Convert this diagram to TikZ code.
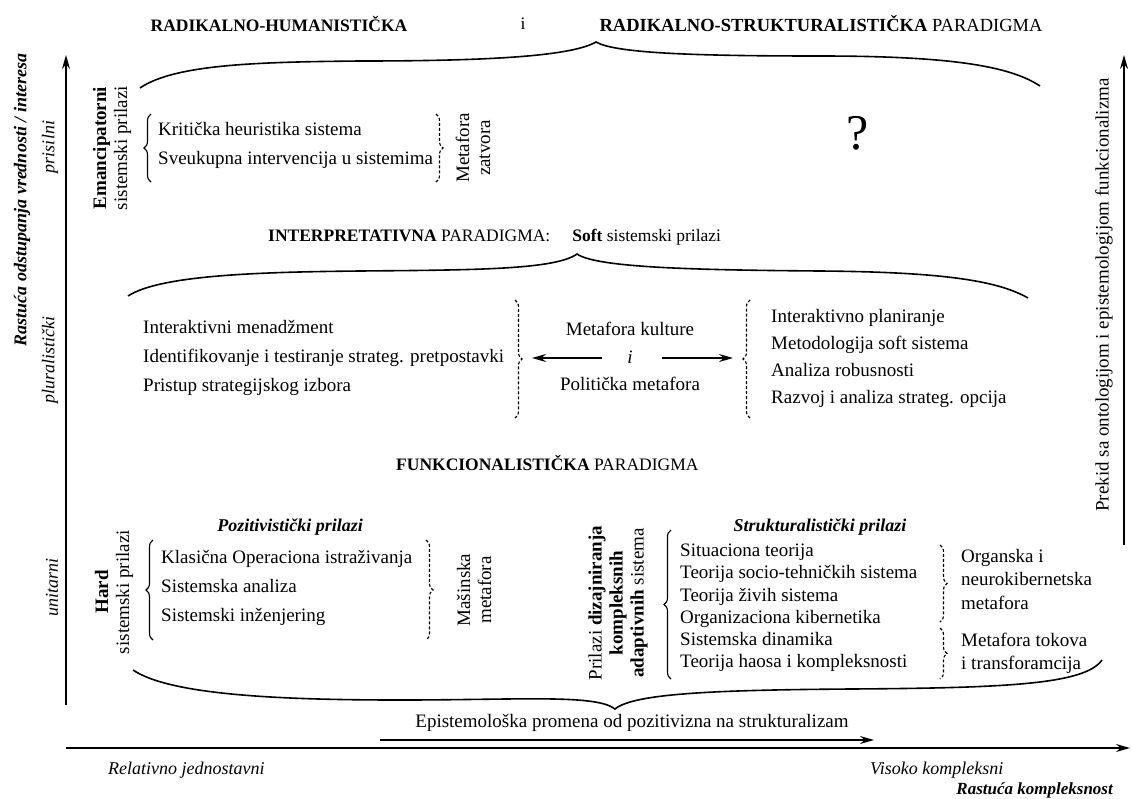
\documentclass[tikz,border=0pt]{standalone}
\usepackage{fontspec}
\setmainfont{Liberation Serif}
\usetikzlibrary{arrows.meta,decorations.pathreplacing}

\tikzset{
  txt/.style={font=\fontsize{19}{21}\selectfont, inner sep=0pt},
  item/.style={txt, anchor=west, text height=13pt, text depth=4pt},
  naslov/.style={font=\fontsize{17.5}{20}\selectfont, inner sep=0pt},
  osa/.style={font=\fontsize{18}{20}\selectfont\itshape, inner sep=0pt},
  zagrada/.style={decorate, decoration={brace, amplitude=7pt}, line width=1.1pt},
  crtice/.style={zagrada, dash pattern=on 3pt off 2pt},
  velika/.style={line width=1.6pt},
  strelica/.style={line width=1.3pt, -{Stealth[length=14pt,width=8pt]}},
}

\begin{document}
\begin{tikzpicture}[x=1pt, y=-1pt]
\useasboundingbox (0,0) rectangle (1131,798);
\fill[white] (0,0) rectangle (1131,798);

% ose
\coordinate (y0) at (66,705);
\coordinate (y1) at (66,55);
\coordinate (x0) at (66,748);
\coordinate (x1) at (1130,748);
\coordinate (d0) at (1124,545);
\coordinate (d1) at (1124,55);
\draw[strelica] (y0) -- (y1);
\draw[strelica] (x0) -- (x1);
\draw[strelica] (d0) -- (d1);

\node[osa, font=\fontsize{18}{20}\selectfont\bfseries\itshape, rotate=90] (rast) at (22,200) {Rastuća odstupanja vrednosti / interesa};
\node[osa, rotate=90] (pris) at (50,147) {prisilni};
\node[osa, rotate=90] (plur) at (50,360) {pluralistički};
\node[osa, rotate=90] (unit) at (52,587) {unitarni};
\node[txt, rotate=90] (prekid) at (1104,295) {Prekid sa ontologijom i epistemologijom funkcionalizma};

\node[osa, anchor=west] (relj) at (108,770) {Relativno jednostavni};
\node[osa, anchor=west] (visk) at (870,770) {Visoko kompleksni};
\node[osa, font=\fontsize{17}{20}\selectfont\bfseries\itshape, anchor=east] (rastk) at (1113,790) {Rastuća kompleksnost};

% radikalne paradigme
\node[naslov] (rh) at (279,24) {\textbf{RADIKALNO-HUMANISTIČKA}};
\node[naslov] (ii) at (523,24) {i};
\node[naslov, font=\fontsize{18.5}{20}\selectfont] (rs) at (821,24) {\textbf{RADIKALNO-STRUKTURALISTIČKA} PARADIGMA};
\draw[velika] (140,88) .. controls (175,64) and (260,62) .. (360,61)
  .. controls (480,61) and (570,57) .. (596,42)
  .. controls (615,53) and (690,56) .. (820,56)
  .. controls (950,56) and (1010,66) .. (1040,86);

\node[txt, rotate=90, align=center] (emanc) at (112,148) {\textbf{Emancipatorni}\\sistemski prilazi};
\draw[zagrada] (151,182) -- (151,114);
\foreach \t [count=\i] in {Kritička heuristika sistema, Sveukupna intervencija u sistemima}
  \node[item] (em\i) at (158,{102+29*\i}) {\t};
\draw[crtice] (436,114) -- (436,182);
\node[txt, rotate=90, align=center] (zatv) at (473,148) {Metafora\\zatvora};
\node[txt, font=\fontsize{50}{56}\selectfont] (upit) at (858,133) {?};

% interpretativna paradigma
\node[naslov, anchor=west] (interp) at (268,237) {\textbf{INTERPRETATIVNA} PARADIGMA:\hspace{22pt}\textbf{Soft} sistemski prilazi};
\draw[velika] (128,296) .. controls (160,275) and (260,272) .. (360,271)
  .. controls (470,270) and (555,270) .. (577,254)
  .. controls (597,268) and (700,270) .. (820,271)
  .. controls (950,272) and (1000,282) .. (1028,298);

\foreach \t [count=\i] in {Interaktivni menadžment, Identifikovanje i testiranje strateg. pretpostavki, Pristup strategijskog izbora}
  \node[item] (int\i) at (143,{300+29*\i}) {\t};
\draw[crtice] (515,300) -- (515,418);
\node[txt] (kult) at (630,329) {Metafora kulture};
\node[txt, font=\fontsize{19}{21}\selectfont\itshape] (veznik) at (630,357) {i};
\node[txt] (polit) at (630,384) {Politička metafora};
\coordinate (lk) at (532,358);
\coordinate (ls) at (602,358);
\coordinate (ds) at (662,358);
\coordinate (dk) at (733,358);
\draw[strelica] (ls) -- (lk);
\draw[strelica] (ds) -- (dk);
\draw[crtice] (750,418) -- (750,300);
\foreach \t [count=\i] in {Interaktivno planiranje, Metodologija soft sistema, Analiza robusnosti, Razvoj i analiza strateg. opcija}
  \node[item] (plan\i) at (771,{291+27*\i}) {\t};

% funkcionalisticka paradigma
\node[naslov, anchor=west] (funk) at (396,463) {\textbf{FUNKCIONALISTIČKA} PARADIGMA};

\node[txt, font=\fontsize{18}{20}\selectfont\bfseries\itshape] (pozit) at (290,527) {Pozitivistički prilazi};
\node[txt, rotate=90, align=center] (hard) at (114,592) {\textbf{Hard}\\sistemski prilazi};
\draw[zagrada] (153,640) -- (153,540);
\foreach \t [count=\i] in {Klasična Operaciona istraživanja, Sistemska analiza, Sistemski inženjering}
  \node[item] (poz\i) at (161,{530+29*\i}) {\t};
\draw[crtice] (426,540) -- (426,640);
\node[txt, rotate=90, align=center] (masin) at (474,590) {Mašinska\\metafora};

\node[txt, rotate=90, align=center] (dizajn) at (618,603) {Prilazi \textbf{dizajniranja}\\\textbf{kompleksnih}\\\textbf{adaptivnih} sistema};
\node[txt, font=\fontsize{18}{20}\selectfont\bfseries\itshape] (strukt) at (820,527) {Strukturalistički prilazi};
\draw[zagrada] (671,679) -- (671,530);
\foreach \t [count=\i] in {Situaciona teorija, Teorija socio-tehničkih sistema, Teorija živih sistema, Organizaciona kibernetika, Sistemska dinamika, Teorija haosa i kompleksnosti}
  \node[item] (str\i) at (680,{530+22.2*\i}) {\t};
\draw[crtice] (940,545) -- (940,622);
\draw[crtice] (940,628) -- (940,679);
\foreach \t [count=\i] in {Organska i, neurokibernetska, metafora}
  \node[item] (org\i) at (961,{534+23.5*\i}) {\t};
\foreach \t [count=\i] in {Metafora tokova, i transforamcija}
  \node[item] (tok\i) at (961,{619+23*\i}) {\t};

\draw[velika] (133,670) .. controls (170,695) and (280,700) .. (400,700)
  .. controls (520,700) and (596,694) .. (615,709)
  .. controls (634,693) and (720,690) .. (850,689)
  .. controls (1010,688) and (1085,684) .. (1102,660);

\node[txt] (epist) at (632,723) {Epistemološka promena od pozitivizna na strukturalizam};
\coordinate (e0) at (380,740);
\coordinate (e1) at (874,740);
\draw[strelica] (e0) -- (e1);
\end{tikzpicture}
\end{document}
